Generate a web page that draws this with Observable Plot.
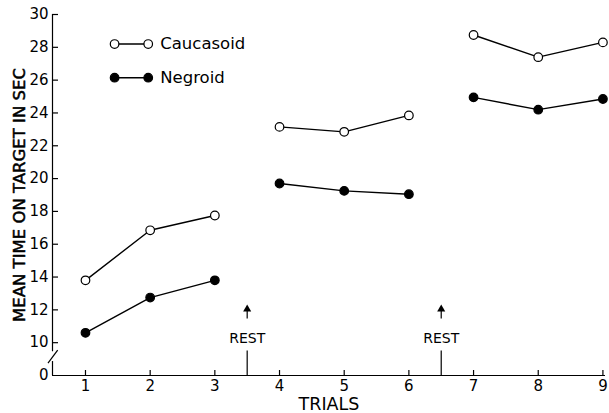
<!DOCTYPE html>
<html><head><meta charset="utf-8">
<script src="https://cdn.jsdelivr.net/npm/d3@7"></script>
<script src="https://cdn.jsdelivr.net/npm/@observablehq/plot@0.6"></script>
<style>
body{margin:0;background:#fff}
svg{font-family:"DejaVu Sans",Verdana,sans-serif}
</style>
</head><body><div id="chart"></div>
<script>
// ---- data ----
const trials = [1, 2, 3, 4, 5, 6, 7, 8, 9];
const blocks = [1, 1, 1, 2, 2, 2, 3, 3, 3];
const caucasoid = [13.8, 16.85, 17.75, 23.15, 22.85, 23.85, 28.75, 27.4, 28.3];
const negroid = [10.6, 12.75, 13.8, 19.7, 19.25, 19.05, 24.95, 24.2, 24.85];
const seriesNames = ["Caucasoid", "Negroid"];
const seriesFill = ["white", "black"];
const yTickValues = [8, 10, 12, 14, 16, 18, 20, 22, 24, 26, 28, 30];
const yTickLabels = ["0", "10", "12", "14", "16", "18", "20", "22", "24", "26", "28", "30"];
const restAt = [3.5, 6.5];
const restLabel = "REST";
const xLabel = "TRIALS";
const yLabel = "MEAN TIME ON TARGET IN SEC";
// legend placement (data units)
const legendX = [1.45, 1.97];
const legendY = [28.2, 26.15];

const rows = trials.flatMap((t, i) => [
  {trial: t, block: blocks[i], series: seriesNames[0], value: caucasoid[i]},
  {trial: t, block: blocks[i], series: seriesNames[1], value: negroid[i]}
]);
const fillOf = s => seriesFill[seriesNames.indexOf(s)];
const legendRows = seriesNames.flatMap((s, i) => legendX.map(x => ({x, y: legendY[i], series: s})));
const legendText = seriesNames.map((s, i) => ({x: legendX[1], y: legendY[i], label: s}));

const xAxisX = 0.49;
const chart = Plot.plot({
  width: 609,
  height: 413,
  marginLeft: 52,
  marginRight: 4,
  marginTop: 14,
  marginBottom: 38,
  style: {fontFamily: "DejaVu Sans, Verdana, sans-serif", fontSize: "15px", color: "black"},
  x: {domain: [xAxisX, 9.04]},
  y: {domain: [8, 30]},
  marks: [
    // axis lines
    Plot.ruleY([8], {x1: xAxisX, x2: 9.04, stroke: "black", strokeWidth: 1.2}),
    Plot.ruleX([xAxisX], {y1: 9.45, y2: 30, stroke: "black", strokeWidth: 1.2}),
    Plot.ruleX([xAxisX], {y1: 8, y2: 8.85, stroke: "black", strokeWidth: 1.2}),
    Plot.link([0], {x1: 0.42, y1: 8.75, x2: 0.57, y2: 9.55, stroke: "black", strokeWidth: 1.2}),
    // ticks (inside)
    Plot.axisX({ticks: trials, tickSize: 5, dy: -5, text: null, strokeWidth: 1.2}),
    Plot.axisX({ticks: trials, tickSize: 0, tickPadding: 5, tickFormat: d => String(d), fontSize: 15}),
    Plot.axisY({ticks: yTickValues.slice(1), tickSize: 6, dx: 6, text: null, strokeWidth: 1.2}),
    Plot.axisY({ticks: yTickValues, tickSize: 0, tickPadding: 4, tickFormat: d => yTickLabels[yTickValues.indexOf(d)], fontSize: 15, label: null}),
    // axis labels
    Plot.text([xLabel], {frameAnchor: "bottom", lineAnchor: "middle", dy: 28.5, text: d => d, fontSize: 17.5}),
    Plot.text([yLabel], {frameAnchor: "left", textAnchor: "middle", dx: -33, dy: 0, rotate: -90, text: d => d, fontSize: 16.5, fill: "black", stroke: "black", strokeWidth: 0.5}),
    // rest markers
    Plot.ruleX(restAt, {y1: 8, y2: 9.5, stroke: "black", strokeWidth: 1.2}),
    Plot.text(restAt, {x: d => d, y: 10.25, text: () => restLabel, fontSize: 14}),
    Plot.ruleX(restAt, {y1: 11.45, y2: 12.0, stroke: "black", strokeWidth: 1.2}),
    Plot.dot(restAt, {x: d => d, y: 12.05, symbol: "triangle", r: 3, fill: "black", stroke: "none"}),
    // data
    Plot.line(rows, {x: "trial", y: "value", z: d => d.series + d.block, stroke: "black", strokeWidth: 1.4}),
    Plot.dot(rows, {x: "trial", y: "value", r: 4.3, fill: d => fillOf(d.series), stroke: "black", strokeWidth: 1.2}),
    // legend
    Plot.line(legendRows, {x: "x", y: "y", z: "series", stroke: "black", strokeWidth: 1.4}),
    Plot.dot(legendRows, {x: "x", y: "y", r: 4.3, fill: d => fillOf(d.series), stroke: "black", strokeWidth: 1.2}),
    Plot.text(legendText, {x: "x", y: "y", text: "label", dx: 12, textAnchor: "start", fontSize: 16.5})
  ]
});
document.getElementById("chart").append(chart);
</script>
</body></html>
